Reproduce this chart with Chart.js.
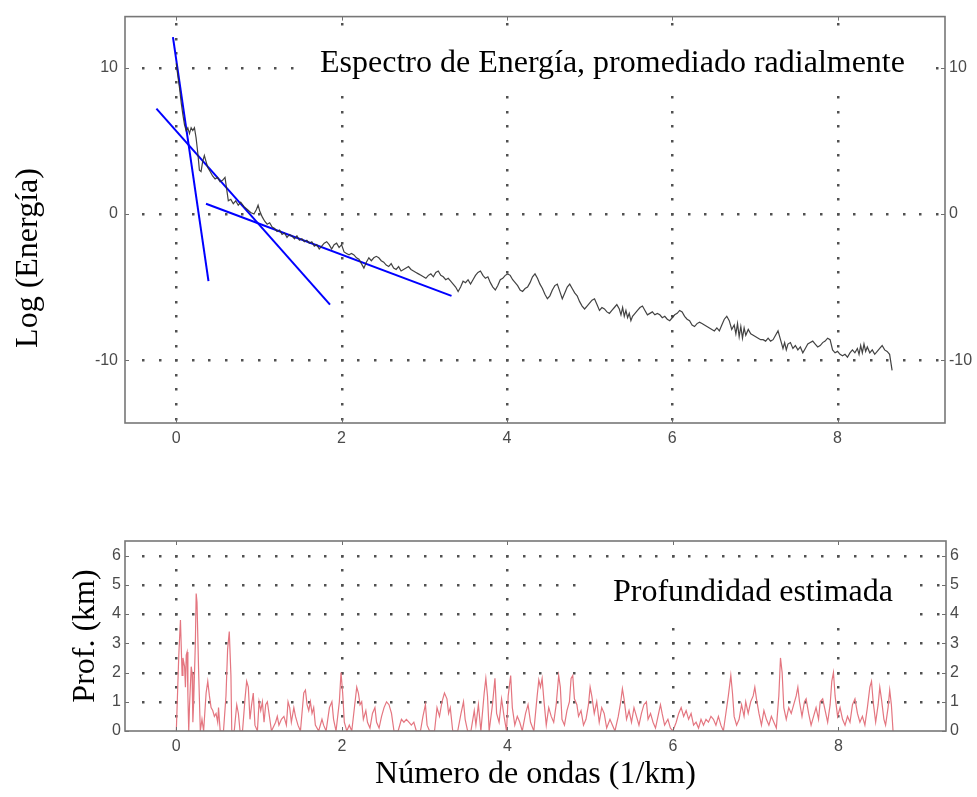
<!DOCTYPE html>
<html>
<head>
<meta charset="utf-8">
<script src="https://cdn.jsdelivr.net/npm/chart.js@4/dist/chart.umd.min.js"></script>
<style>
  html, body { margin: 0; padding: 0; background: #fff; }
  #wrap { position: relative; width: 977px; height: 797px; }
  #energyChart { position: absolute; left: 0; top: 0; }
  #depthChart { position: absolute; left: 0; top: 480px; }
</style>
</head>
<body>
<div id="wrap">
  <canvas id="energyChart" width="977" height="480"></canvas>
  <canvas id="depthChart" width="977" height="317"></canvas>
</div>
<script>
// ---- tick labels ----
const waveTicks = [0, 2, 4, 6, 8];
const energyTicks = [-10, 0, 10];
const depthTicks = [0, 1, 2, 3, 4, 5, 6];

// ---- radially averaged power spectrum (wave number 1/km, log energy) ----
const waveNumber = [
  0.00, 0.02, 0.04, 0.06, 0.08, 0.10, 0.12, 0.14, 0.16, 0.18, 0.20, 0.22, 0.24, 0.26, 0.28, 0.30,
  0.32, 0.34, 0.36, 0.38, 0.41, 0.44, 0.47, 0.50, 0.53, 0.56, 0.59, 0.61, 0.63, 0.66, 0.69, 0.72,
  0.75, 0.78, 0.82, 0.86, 0.90, 0.94, 0.97, 0.99, 1.01, 1.04, 1.07, 1.10, 1.13, 1.16, 1.19, 1.22,
  1.25, 1.28, 1.31, 1.34, 1.37, 1.40, 1.43, 1.46, 1.49, 1.52, 1.55, 1.58, 1.61, 1.64, 1.67, 1.70,
  1.73, 1.76, 1.79, 1.82, 1.85, 1.88, 1.91, 1.94, 1.97, 2.00, 2.03, 2.06, 2.09, 2.12, 2.15, 2.18,
  2.21, 2.24, 2.27, 2.30, 2.33, 2.36, 2.39, 2.42, 2.45, 2.48, 2.51, 2.54, 2.57, 2.60, 2.63, 2.66,
  2.69, 2.72, 2.75, 2.78, 2.81, 2.84, 2.87, 2.90, 2.93, 2.96, 2.99, 3.02, 3.05, 3.08, 3.11, 3.14,
  3.17, 3.20, 3.23, 3.26, 3.29, 3.32, 3.35, 3.38, 3.41, 3.44, 3.47, 3.50, 3.53, 3.56, 3.59, 3.62,
  3.65, 3.68, 3.71, 3.74, 3.77, 3.80, 3.83, 3.86, 3.89, 3.92, 3.95, 3.98, 4.01, 4.04, 4.07, 4.10,
  4.13, 4.16, 4.19, 4.22, 4.25, 4.28, 4.31, 4.34, 4.37, 4.40, 4.43, 4.46, 4.49, 4.52, 4.55, 4.58,
  4.61, 4.64, 4.67, 4.70, 4.73, 4.76, 4.79, 4.82, 4.85, 4.88, 4.91, 4.94, 4.97, 5.00, 5.03, 5.06,
  5.09, 5.12, 5.15, 5.18, 5.21, 5.24, 5.27, 5.30, 5.33, 5.36, 5.38, 5.40, 5.42, 5.44, 5.46, 5.48,
  5.50, 5.52, 5.55, 5.58, 5.61, 5.64, 5.67, 5.70, 5.73, 5.76, 5.79, 5.82, 5.85, 5.88, 5.91, 5.94,
  5.97, 6.00, 6.03, 6.06, 6.09, 6.12, 6.15, 6.18, 6.21, 6.24, 6.27, 6.30, 6.33, 6.36, 6.39, 6.42,
  6.45, 6.48, 6.51, 6.54, 6.57, 6.60, 6.63, 6.66, 6.69, 6.72, 6.75, 6.77, 6.79, 6.81, 6.83, 6.85,
  6.87, 6.89, 6.92, 6.95, 6.98, 7.01, 7.04, 7.07, 7.10, 7.13, 7.16, 7.19, 7.22, 7.25, 7.28, 7.31,
  7.34, 7.36, 7.38, 7.40, 7.43, 7.46, 7.49, 7.52, 7.55, 7.58, 7.61, 7.64, 7.67, 7.70, 7.73, 7.76,
  7.79, 7.82, 7.85, 7.88, 7.91, 7.94, 7.97, 8.00, 8.03, 8.06, 8.09, 8.12, 8.15, 8.18, 8.21, 8.24,
  8.26, 8.28, 8.30, 8.32, 8.34, 8.36, 8.39, 8.42, 8.45, 8.48, 8.51, 8.54, 8.57, 8.60, 8.63, 8.66
];
const logEnergy = [
  10.3, 9.4, 8.6, 7.6, 6.8, 6.1, 5.7, 5.9, 5.5, 5.9, 5.7, 5.9, 5.2, 4.2, 3.0, 2.9,
  3.6, 4.0, 3.6, 3.2, 2.9, 2.6, 2.4, 2.5, 2.2, 2.3, 2.5, 1.7, 0.9, 1.0, 0.7, 0.9,
  0.6, 0.8, 0.5, 0.3, 0.1, 0.0, 0.3, 0.6, 0.2, -0.2, -0.5, -0.7, -0.6, -0.9, -1.0, -1.2,
  -1.1, -1.4, -1.3, -1.6, -1.4, -1.5, -1.7, -1.5, -1.8, -1.7, -1.9, -1.8, -2.0, -1.9, -2.2, -2.1,
  -2.4, -2.2, -2.0, -1.9, -2.1, -2.4, -2.1, -2.0, -2.3, -2.1, -2.6, -2.7, -2.8, -2.7, -2.8, -3.0,
  -3.1, -3.4, -3.7, -3.3, -3.0, -3.2, -3.0, -2.9, -3.0, -3.2, -3.3, -3.5, -3.6, -3.4, -3.7, -3.8,
  -3.6, -3.9, -3.8, -3.7, -3.6, -3.8, -3.9, -4.0, -4.1, -4.2, -4.3, -4.4, -4.2, -4.1, -4.3, -4.0,
  -3.9, -4.2, -4.3, -4.5, -4.4, -4.6, -4.8, -5.0, -5.3, -5.0, -4.6, -4.7, -4.5, -4.8, -4.5, -4.2,
  -4.0, -3.9, -4.2, -4.4, -4.3, -4.7, -5.0, -5.2, -4.9, -4.5, -4.4, -4.2, -4.1, -4.2, -4.5, -4.7,
  -4.9, -5.2, -5.3, -5.1, -5.0, -4.7, -4.3, -4.1, -4.4, -4.8, -5.1, -5.5, -5.8, -5.6, -5.2, -4.9,
  -4.8, -5.3, -5.8, -5.4, -5.0, -4.8, -5.1, -5.4, -5.6, -6.0, -6.3, -6.5, -6.3, -6.1, -5.9, -5.8,
  -6.2, -6.6, -6.4, -6.5, -6.7, -6.8, -6.6, -6.4, -6.2, -6.5, -6.9, -6.4, -7.0, -6.6, -7.1, -6.8,
  -7.3, -7.0, -6.8, -6.6, -6.4, -6.3, -6.6, -6.9, -6.8, -6.7, -6.9, -6.8, -6.9, -7.1, -7.0, -7.2,
  -7.3, -7.1, -6.9, -6.8, -6.6, -6.7, -7.0, -7.2, -7.3, -7.6, -7.7, -7.5, -7.4, -7.5, -7.6, -7.7,
  -7.8, -7.9, -8.0, -7.8, -8.0, -7.6, -7.2, -7.0, -7.3, -7.9, -7.6, -8.2, -7.5, -8.4, -7.7, -8.5,
  -7.8, -8.3, -7.9, -8.2, -8.3, -8.4, -8.5, -8.6, -8.6, -8.7, -8.5, -8.7, -8.6, -8.3, -8.0, -8.6,
  -9.2, -8.8, -9.3, -8.9, -8.8, -9.2, -9.0, -9.3, -9.1, -9.5, -9.2, -8.9, -8.8, -8.7, -8.9, -9.1,
  -9.0, -8.8, -8.7, -8.5, -8.6, -9.3, -9.5, -9.4, -9.6, -9.7, -9.6, -9.8, -9.5, -9.3, -9.5, -9.2,
  -9.6, -9.0, -9.5, -8.9, -9.4, -9.1, -9.5, -9.3, -9.6, -9.4, -9.2, -9.0, -9.3, -9.4, -9.6, -10.7
];

// ---- straight-line fits on the spectrum (deep, intermediate, shallow sources) ----
const deepFitX = [-0.04, 0.39];
const deepFitY = [12.1, -4.6];
const midFitX = [-0.24, 1.86];
const midFitY = [7.2, -6.2];
const shallowFitX = [0.36, 3.33];
const shallowFitY = [0.7, -5.6];

// ---- estimated depth (km) against wave number ----
const depthWave = [
  0.00, 0.03, 0.05, 0.07, 0.08, 0.10, 0.11, 0.12, 0.13, 0.14, 0.15, 0.16, 0.18, 0.19, 0.20, 0.21,
  0.23, 0.24, 0.25, 0.27, 0.28, 0.29, 0.31, 0.33, 0.36, 0.38, 0.40, 0.42, 0.44, 0.46, 0.48, 0.50,
  0.51, 0.53, 0.57, 0.60, 0.62, 0.64, 0.66, 0.67, 0.70, 0.73, 0.75, 0.77, 0.80, 0.83, 0.85, 0.87,
  0.89, 0.91, 0.93, 0.95, 0.98, 1.00, 1.02, 1.04, 1.06, 1.08, 1.10, 1.12, 1.15, 1.20, 1.22, 1.24,
  1.27, 1.30, 1.33, 1.35, 1.37, 1.39, 1.42, 1.44, 1.47, 1.50, 1.54, 1.56, 1.58, 1.60, 1.62, 1.64,
  1.66, 1.68, 1.72, 1.76, 1.78, 1.81, 1.85, 1.88, 1.90, 1.93, 1.97, 1.99, 2.01, 2.03, 2.06, 2.09,
  2.12, 2.16, 2.18, 2.20, 2.22, 2.24, 2.26, 2.29, 2.31, 2.34, 2.37, 2.40, 2.42, 2.45, 2.48, 2.51,
  2.54, 2.57, 2.60, 2.63, 2.68, 2.72, 2.75, 2.78, 2.81, 2.84, 2.87, 2.90, 2.95, 2.98, 3.01, 3.03,
  3.06, 3.12, 3.15, 3.18, 3.21, 3.24, 3.27, 3.29, 3.31, 3.34, 3.40, 3.44, 3.47, 3.49, 3.52, 3.56,
  3.60, 3.62, 3.65, 3.68, 3.72, 3.74, 3.76, 3.78, 3.82, 3.85, 3.87, 3.90, 3.93, 3.96, 3.99, 4.01,
  4.04, 4.06, 4.09, 4.12, 4.15, 4.18, 4.22, 4.25, 4.28, 4.32, 4.36, 4.38, 4.40, 4.42, 4.44, 4.47,
  4.50, 4.53, 4.56, 4.59, 4.62, 4.64, 4.66, 4.69, 4.72, 4.75, 4.77, 4.79, 4.81, 4.84, 4.86, 4.89,
  4.92, 4.95, 4.98, 5.00, 5.02, 5.05, 5.08, 5.11, 5.14, 5.17, 5.20, 5.24, 5.27, 5.30, 5.34, 5.37,
  5.39, 5.41, 5.44, 5.47, 5.50, 5.53, 5.56, 5.59, 5.62, 5.65, 5.68, 5.70, 5.73, 5.76, 5.79, 5.82,
  5.85, 5.87, 5.90, 5.94, 5.97, 6.00, 6.04, 6.07, 6.10, 6.13, 6.16, 6.19, 6.22, 6.25, 6.28, 6.31,
  6.34, 6.37, 6.40, 6.43, 6.46, 6.49, 6.52, 6.55, 6.58, 6.61, 6.64, 6.67, 6.70, 6.72, 6.74, 6.77,
  6.80, 6.83, 6.86, 6.88, 6.91, 6.94, 6.97, 6.99, 7.01, 7.04, 7.07, 7.10, 7.13, 7.16, 7.19, 7.22,
  7.25, 7.28, 7.30, 7.32, 7.34, 7.37, 7.40, 7.43, 7.46, 7.49, 7.51, 7.53, 7.56, 7.59, 7.61, 7.64,
  7.67, 7.70, 7.73, 7.76, 7.78, 7.81, 7.84, 7.87, 7.90, 7.92, 7.94, 7.96, 7.99, 8.02, 8.05, 8.08,
  8.11, 8.14, 8.17, 8.20, 8.23, 8.26, 8.29, 8.32, 8.35, 8.38, 8.40, 8.42, 8.45, 8.48, 8.50, 8.52,
  8.55, 8.57, 8.60, 8.62, 8.64, 8.66
];
const depthKm = [
  0, 2.6, 3.8, 1.9, 2.5, 2.2, 1.5, 2.6, 2.7, 1.2, 0, 0.9, 2.2, 2.0, 0.3, 1.0,
  3.0, 4.7, 4.4, 2.0, 1.0, 0, 0.4, 0, 1.3, 1.7, 1.2, 0.8, 0.7, 0.5, 0.6, 0.3,
  0.8, 0, 0, 1.2, 2.8, 3.4, 1.9, 0, 0, 0.9, 0.6, 0, 0, 1.1, 1.7, 1.5,
  0.4, 0.9, 1.3, 0.2, 0, 1.0, 0.7, 1.0, 0.3, 0.9, 1.0, 0.6, 0, 0.3, 0.5, 0.2,
  0.4, 0.5, 0.2, 1.0, 0.8, 0.3, 0.8, 0.5, 0.2, 0, 1.3, 1.4, 0.9, 0.7, 1.0, 0.6,
  0.8, 0.2, 0, 0.4, 0.2, 0, 0.8, 1.0, 0.4, 0, 1.0, 2.0, 1.3, 0.3, 0, 0.2,
  0, 1.0, 1.5, 1.3, 0.9, 1.0, 0.4, 0.7, 0.3, 0.1, 0.6, 0.8, 0.3, 0.1, 0.5, 0.8,
  1.0, 0.9, 0.6, 0, 0, 0.4, 0.3, 0.4, 0.3, 0.2, 0.3, 0, 0, 0.5, 0.9, 0.2,
  0, 0, 0.8, 0.5, 1.0, 1.3, 1.1, 0.6, 0.8, 0, 0, 0.6, 1.0, 0.4, 0, 0,
  0.7, 0.2, 0.9, 0, 1.3, 1.8, 1.2, 0, 0.9, 1.8, 0.6, 0.3, 1.1, 0.5, 0, 1.2,
  1.9, 0.8, 0.2, 0.5, 0.3, 0, 0.6, 0.9, 0.3, 0, 1.2, 1.75, 1.5, 1.8, 1.1, 0.2,
  0.8, 0.5, 0.3, 0.9, 1.9, 1.5, 0.4, 0.2, 0.7, 1.0, 1.8, 1.9, 1.1, 0.9, 0.5, 0.7,
  0.2, 0.4, 0.9, 1.5, 1.2, 0.6, 1.0, 0.3, 0.8, 0.6, 0.1, 0.4, 0.2, 0, 0.5, 1.0,
  1.45, 1.1, 0.4, 0.7, 0.3, 0.8, 0.5, 0.2, 0.6, 0.9, 1.0, 0.4, 0.6, 0.3, 0.1, 0.5,
  0.9, 0.6, 0.2, 0.4, 0.1, 0, 0.3, 0.6, 0.8, 0.5, 0.7, 0.4, 0.6, 0.2, 0.3, 0.1,
  0.4, 0.2, 0.4, 0.3, 0.5, 0.4, 0.2, 0.5, 0.2, 0, 0.6, 1.2, 1.9, 1.3, 0.5, 0.2,
  0.4, 0.9, 0.5, 1.0, 0.6, 1.0, 1.2, 1.5, 1.1, 0.6, 0.2, 0.7, 0.4, 0.2, 0.5, 0.3,
  0.1, 1.2, 2.5, 2.0, 0.8, 0.4, 0.8, 0.6, 0.9, 1.2, 1.5, 1.0, 0.5, 1.0, 1.1, 0.6,
  0.2, 0.5, 0.8, 0.4, 1.0, 1.1, 0.7, 0.3, 0.9, 1.7, 2.0, 1.2, 0.5, 0.8, 0.4, 0.2,
  0.5, 0.3, 0.9, 1.1, 0.6, 0.3, 0.5, 0.2, 0.8, 1.5, 1.7, 1.0, 0.3, 0.9, 1.5, 1.1,
  0.4, 0.2, 0.8, 1.4, 0.9, 0
];

const pairs = (xs, ys) => xs.map((x, i) => ({ x, y: ys[i] }));

const TICK_FONT = { family: "'Liberation Sans', Arial, sans-serif", size: 16 };
const TICK_COLOR = '#4a4a4a';
const SERIF = "'Liberation Serif', 'Times New Roman', serif";

// Dotted grid, white caption boxes, frame with inward tick marks and free text
const frameGrid = {
  id: 'frameGrid',
  beforeDatasetsDraw(chart, args, o) {
    const { ctx, chartArea: a, scales: { x, y } } = chart;
    ctx.save();
    ctx.fillStyle = '#505050';
    for (const gv of o.rows) {
      const py = Math.round(y.getPixelForValue(gv));
      for (let k = Math.ceil(x.min / o.xStep - 1e-9); k * o.xStep <= x.max; k++) {
        const px = Math.round(x.getPixelForValue(k * o.xStep));
        if (px > a.left + 2 && px < a.right - 2) ctx.fillRect(px - 1, py - 1, 2.5, 2.5);
      }
    }
    for (const gv of o.cols) {
      const px = Math.round(x.getPixelForValue(gv));
      for (let k = Math.ceil(y.min / o.yStep - 1e-9); k * o.yStep <= y.max; k++) {
        const py = Math.round(y.getPixelForValue(k * o.yStep));
        if (py > a.top + 2 && py < a.bottom - 2) ctx.fillRect(px - 1, py - 1, 2.5, 2.5);
      }
    }
    for (const c of o.captions) {
      ctx.fillStyle = '#fff';
      ctx.fillRect(c.box[0], c.box[1], c.box[2], c.box[3]);
      ctx.fillStyle = '#000';
      ctx.font = `${c.size}px ${SERIF}`;
      ctx.textAlign = 'left';
      ctx.textBaseline = 'alphabetic';
      ctx.fillText(c.text, c.at[0], c.at[1]);
    }
    ctx.restore();
  },
  afterDraw(chart, args, o) {
    const { ctx, chartArea: a, scales: { x, y } } = chart;
    ctx.save();
    ctx.strokeStyle = '#6e6e6e';
    ctx.lineWidth = 1;
    ctx.beginPath();
    for (const v of o.xTicks) {
      const px = Math.round(x.getPixelForValue(v)) + 0.5;
      ctx.moveTo(px, a.top); ctx.lineTo(px, a.top + 4);
      ctx.moveTo(px, a.bottom); ctx.lineTo(px, a.bottom - 4);
    }
    for (const v of o.yTicks) {
      const py = Math.round(y.getPixelForValue(v)) + 0.5;
      ctx.moveTo(a.left, py); ctx.lineTo(a.left + 4, py);
      ctx.moveTo(a.right, py); ctx.lineTo(a.right - 4, py);
    }
    ctx.stroke();
    ctx.strokeStyle = '#777';
    ctx.lineWidth = 1.6;
    ctx.strokeRect(a.left, a.top, a.right - a.left, a.bottom - a.top);
    for (const t of o.texts) {
      ctx.save();
      ctx.translate(t.at[0], t.at[1]);
      ctx.rotate(t.rot || 0);
      ctx.fillStyle = '#000';
      ctx.font = `${t.size}px ${SERIF}`;
      ctx.textAlign = 'center';
      ctx.textBaseline = 'alphabetic';
      ctx.fillText(t.text, 0, 0);
      ctx.restore();
    }
    ctx.restore();
  }
};

const fixedTicks = list => scale => { scale.ticks = list.map(v => ({ value: v })); };

function valueAxis(position, list, min, max, width, pad) {
  return {
    type: 'linear', position, min, max,
    afterBuildTicks: fixedTicks(list),
    afterFit: s => { s.width = width; },
    grid: { display: false, drawTicks: false },
    border: { display: false },
    ticks: { font: TICK_FONT, color: TICK_COLOR, padding: pad }
  };
}

function waveAxis(height, pad, title) {
  return {
    type: 'linear', position: 'bottom', min: -0.62, max: 9.3,
    afterBuildTicks: fixedTicks(waveTicks),
    afterFit: s => { s.height = height; },
    grid: { display: false, drawTicks: false },
    border: { display: false },
    ticks: { font: TICK_FONT, color: TICK_COLOR, padding: pad, maxRotation: 0 },
    title: title
  };
}

new Chart(document.getElementById('energyChart'), {
  type: 'line',
  data: {
    datasets: [
      { data: pairs(waveNumber, logEnergy), borderColor: 'rgba(45,45,45,0.9)', borderWidth: 1.2 },
      { data: pairs(deepFitX, deepFitY), borderColor: '#0000ff', borderWidth: 2 },
      { data: pairs(midFitX, midFitY), borderColor: '#0000ff', borderWidth: 2 },
      { data: pairs(shallowFitX, shallowFitY), borderColor: '#0000ff', borderWidth: 2 }
    ]
  },
  options: {
    responsive: false,
    animation: false,
    devicePixelRatio: 1,
    layout: { padding: { top: 13, left: 0, right: 0, bottom: 0 } },
    elements: { point: { radius: 0 }, line: { tension: 0 } },
    scales: {
      x: waveAxis(57, 6, { display: false }),
      y: valueAxis('left', energyTicks, -14.3, 13.5, 125, 7),
      yRight: valueAxis('right', energyTicks, -14.3, 13.5, 32, 4)
    },
    plugins: {
      legend: { display: false },
      tooltip: { enabled: false },
      frameGrid: {
        rows: energyTicks, cols: waveTicks, xStep: 0.2, yStep: 1,
        xTicks: waveTicks, yTicks: energyTicks,
        captions: [{ text: 'Espectro de Energía, promediado radialmente', size: 32, box: [300, 28, 628, 64], at: [320, 72] }],
        texts: [{ text: 'Log (Energía)', size: 32, at: [37, 258], rot: -Math.PI / 2 }]
      }
    }
  },
  plugins: [frameGrid]
});

new Chart(document.getElementById('depthChart'), {
  type: 'line',
  data: {
    datasets: [
      { data: pairs(depthWave, depthKm), borderColor: 'rgb(228,118,128)', borderWidth: 1.2 }
    ]
  },
  options: {
    responsive: false,
    animation: false,
    devicePixelRatio: 1,
    layout: { padding: { top: 61, left: 0, right: 0, bottom: 0 } },
    elements: { point: { radius: 0 }, line: { tension: 0 } },
    scales: {
      x: waveAxis(66, 6, {
        display: true, text: 'Número de ondas (1/km)', color: '#000',
        font: { family: SERIF, size: 32 }, padding: { top: 0, bottom: 3 }
      }),
      y: Object.assign(valueAxis('left', depthTicks, 0, 6.5, 125, 4), {
        title: {
          display: true, text: 'Prof. (km)', color: '#000',
          font: { family: SERIF, size: 32 }, padding: { top: 66, bottom: 0 }
        }
      }),
      yRight: valueAxis('right', depthTicks, 0, 6.5, 31, 4)
    },
    plugins: {
      legend: { display: false },
      tooltip: { enabled: false },
      frameGrid: {
        rows: [1, 2, 3, 4, 5, 6], cols: waveTicks, xStep: 0.2, yStep: 0.5,
        xTicks: waveTicks, yTicks: depthTicks,
        captions: [{ text: 'Profundidad estimada', size: 32, box: [588, 82, 326, 66], at: [613, 121] }],
        texts: []
      }
    }
  },
  plugins: [frameGrid]
});
</script>
</body>
</html>
